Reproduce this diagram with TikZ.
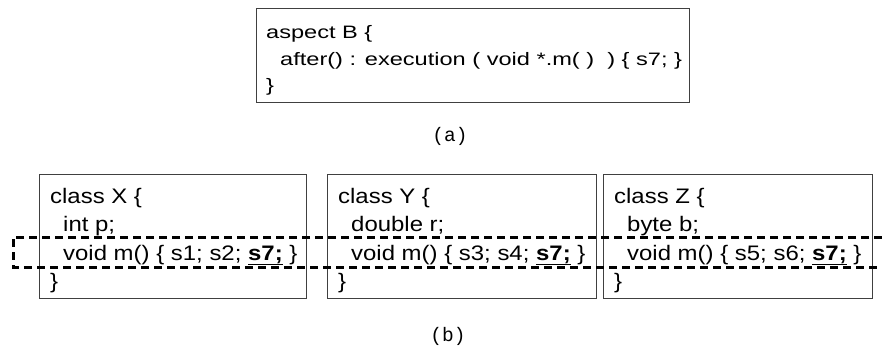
\documentclass[tikz,border=0pt]{standalone}
\usepackage{fontspec}
\setmainfont{Liberation Sans}
\newfontfamily\aspfont[FakeStretch=1.31]{Liberation Sans}
\newfontfamily\clsfont[FakeStretch=1.14]{Liberation Sans}
\newfontfamily\capfont{Liberation Mono}
\newcommand{\hit}{\underline{\textbf{s7;}}}
\tikzset{
  box/.style={draw=black!75, line width=0.9pt, anchor=north west, inner sep=0pt},
  asptxt/.style={anchor=base west, inner sep=0pt, font=\aspfont\fontsize{18}{21}\selectfont},
  clstxt/.style={anchor=base west, inner sep=0pt, font=\clsfont\fontsize{21}{25}\selectfont},
  captxt/.style={anchor=center, inner sep=0pt, font=\capfont\fontsize{19.5}{22}\selectfont},
  dashline/.style={draw=black, line width=3pt, dash pattern=on 8pt off 5pt}
}
\begin{document}
\begin{tikzpicture}[x=1pt,y=-1pt]
\useasboundingbox (0,0) rectangle (882,348);
% aspect box
\node[box, minimum width=433pt, minimum height=94pt] (A) at (256,8) {};
\node[asptxt] (a1) at (266,38.3) {aspect B \{};
\node[asptxt] (a2) at (280,65) {after() : execution ( void *.m( )\ \ ) \{ s7; \}};
\node[asptxt] (a3) at (266,91.7) {\}};
\node[captxt] (capa) at (450,136) {(a)};
% class boxes
\node[box, minimum width=267pt, minimum height=124pt] (X) at (39,174) {};
\node[box, minimum width=269pt, minimum height=124pt] (Y) at (327,174) {};
\node[box, minimum width=269pt, minimum height=124pt] (Z) at (603,174) {};
\node[clstxt] (x1) at (50,203) {class X \{};
\node[clstxt] (x2) at (63,231.5) {int p;};
\node[clstxt] (x3) at (63,260) {void m() \{ s1; s2; \hit\ \}};
\node[clstxt] (x4) at (50,288.5) {\}};
\node[clstxt] (y1) at (338,203) {class Y \{};
\node[clstxt] (y2) at (351,231.5) {double r;};
\node[clstxt] (y3) at (351,260) {void m() \{ s3; s4; \hit\ \}};
\node[clstxt] (y4) at (338,288.5) {\}};
\node[clstxt] (z1) at (614,203) {class Z \{};
\node[clstxt] (z2) at (627,231.5) {byte b;};
\node[clstxt] (z3) at (627,260) {void m() \{ s5; s6; \hit\ \}};
\node[clstxt] (z4) at (614,288.5) {\}};
\node[captxt] (capb) at (448,336) {(b)};
% dashed join-point region
\coordinate (d1) at (882,237);
\coordinate (d2) at (13,237);
\coordinate (d3) at (13,267);
\coordinate (d4) at (882,267);
\draw[dashline] (d1) -- (d2) -- (d3) -- (d4);
\end{tikzpicture}
\end{document}
